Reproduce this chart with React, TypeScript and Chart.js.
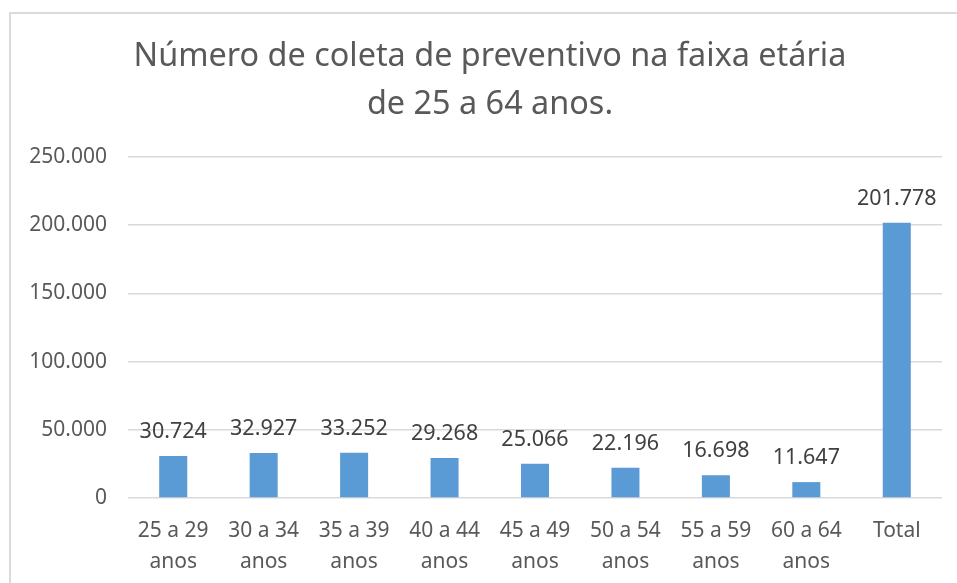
import React, { useEffect, useRef } from "react";
import { Chart, registerables } from "chart.js";

Chart.register(...registerables);

const categories: string[][] = [
  ["25 a 29", "anos"],
  ["30 a 34", "anos"],
  ["35 a 39", "anos"],
  ["40 a 44", "anos"],
  ["45 a 49", "anos"],
  ["50 a 54", "anos"],
  ["55 a 59", "anos"],
  ["60 a 64", "anos"],
  ["Total"],
];
const values: number[] = [30724, 32927, 33252, 29268, 25066, 22196, 16698, 11647, 201778];
const titleLines: string[] = ["Número de coleta de preventivo na faixa etária", "de 25 a 64 anos."];
const yMax = 250000;
const yStep = 50000;

const FONT = "'Noto Sans', 'Open Sans', sans-serif";
const TEXT = "#595959";

function fmt(v: number): string {
  return Math.round(v).toString().replace(/\B(?=(\d{3})+(?!\d))/g, ".");
}

const dataLabels = {
  id: "dataLabels",
  afterDatasetsDraw(chart: any) {
    const ctx = chart.ctx;
    const meta = chart.getDatasetMeta(0);
    ctx.save();
    ctx.font = `21.5px ${FONT}`;
    ctx.fillStyle = "#404040";
    ctx.textAlign = "center";
    ctx.textBaseline = "alphabetic";
    meta.data.forEach((bar: any, i: number) => {
      ctx.fillText(fmt(values[i]), bar.x, bar.y - 18);
    });
    ctx.restore();
  },
};

const titlePlugin = {
  id: "customTitle",
  afterDraw(chart: any) {
    const ctx = chart.ctx;
    ctx.save();
    ctx.font = `32.4px ${FONT}`;
    ctx.fillStyle = TEXT;
    ctx.textAlign = "center";
    ctx.textBaseline = "middle";
    const cx = 479;
    titleLines.forEach((line, i) => {
      ctx.fillText(line, cx, 43 + i * 48);
    });
    ctx.restore();
  },
};

export default function App() {
  const ref = useRef<HTMLCanvasElement | null>(null);
  useEffect(() => {
    if (!ref.current) return;
    const chart = new Chart(ref.current, {
      type: "bar",
      data: {
        labels: categories as any,
        datasets: [
          {
            data: values,
            backgroundColor: "#5B9BD5",
            borderWidth: 0,
            barPercentage: 0.31,
            categoryPercentage: 1,
          },
        ],
      },
      options: {
        animation: false,
        responsive: false,
        maintainAspectRatio: false,
        layout: { padding: { left: 0, right: 15, top: 143, bottom: 0 } },
        plugins: {
          legend: { display: false },
          tooltip: { enabled: false },
          title: { display: false },
        },
        scales: {
          x: {
            grid: { display: false, drawTicks: false },
            border: { display: false },
            ticks: {
              color: TEXT,
              font: { family: FONT, size: 21, lineHeight: 1.45 },
              padding: 18,
              maxRotation: 0,
              autoSkip: false,
            },
            afterFit(scale: any) {
              scale.height = 85;
            },
          },
          y: {
            min: 0,
            max: yMax,
            grid: { color: "#d9d9d9", lineWidth: 1.5, drawTicks: false },
            border: { display: false },
            ticks: {
              stepSize: yStep,
              color: TEXT,
              font: { family: FONT, size: 21 },
              padding: 21,
              callback: (v: any) => fmt(Number(v)),
            },
            afterFit(scale: any) {
              scale.width = 117;
            },
          },
        },
      },
      plugins: [dataLabels, titlePlugin],
    });
    return () => chart.destroy();
  }, []);

  return (
    <div
      style={{
        position: "absolute",
        left: 0,
        top: 0,
        width: 957,
        height: 583,
        overflow: "hidden",
        background: "#fff",
      }}
    >
      <div
        style={{
          position: "absolute",
          left: 9,
          top: 12,
          width: 1000,
          height: 700,
          border: "2px solid #dadada",
          boxSizing: "border-box",
        }}
      />
      <canvas
        ref={ref}
        width={946}
        height={569}
        style={{ position: "absolute", left: 11, top: 14, width: 946, height: 569 }}
      />
    </div>
  );
}
